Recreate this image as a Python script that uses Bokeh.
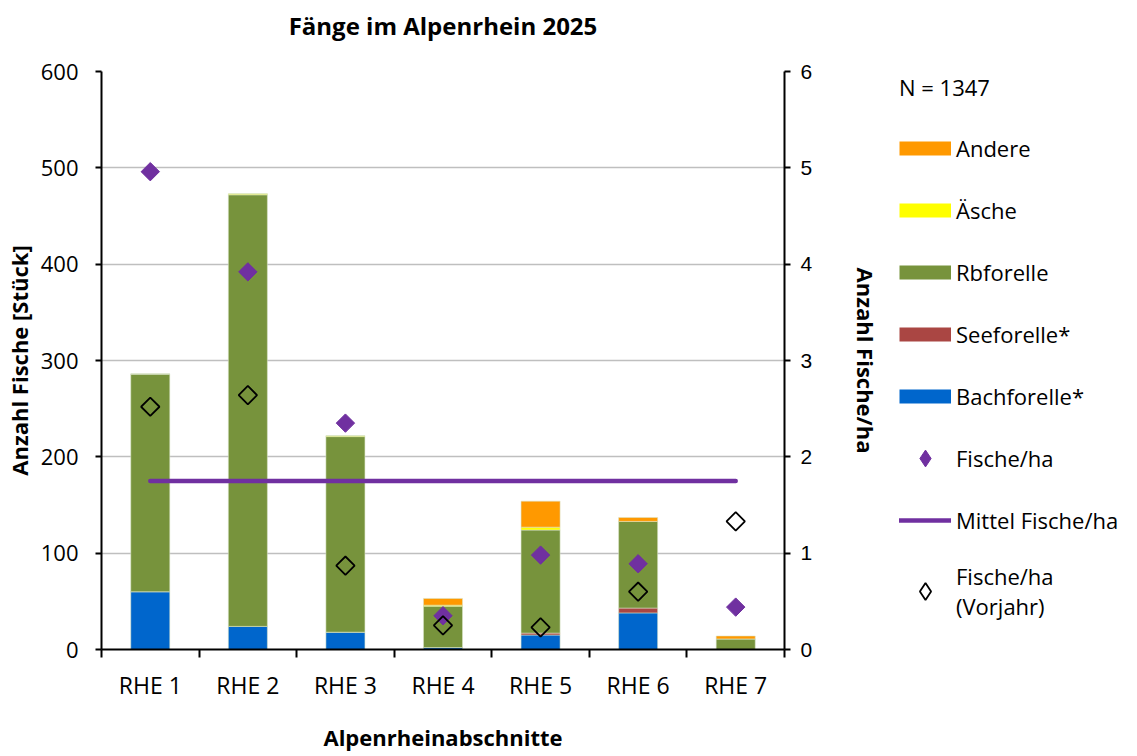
from bokeh.plotting import figure
from bokeh.layouts import row
from bokeh.models import (Range1d, LinearAxis, FixedTicker, Legend, LegendItem, ColumnDataSource, Title)
from bokeh.embed import file_html
from bokeh.resources import INLINE
import math

# ---- data ----
abschnitte = ["RHE 1", "RHE 2", "RHE 3", "RHE 4", "RHE 5", "RHE 6", "RHE 7"]
bachforelle = [60, 24, 18, 2, 15, 38, 0]
seeforelle = [0, 0, 0, 0, 2, 5, 0]
rbforelle = [226, 448, 203, 43, 107, 90, 11]
aesche = [0, 1, 1, 1, 3, 0, 0]
andere = [0, 0, 0, 7, 27, 4, 3]
fische_ha = [4.96, 3.92, 2.35, 0.35, 0.98, 0.89, 0.44]
fische_ha_vorjahr = [2.52, 2.64, 0.87, 0.25, 0.23, 0.60, 1.33]
mittel_fische_ha = [1.75] * 7
y_left_ticks = [0, 100, 200, 300, 400, 500, 600]
y_right_ticks = [0, 1, 2, 3, 4, 5, 6]
n_total = "N = 1347"
chart_title = "Fänge im Alpenrhein 2025"

species = ["bach", "see", "rb", "aesche", "andere"]
labels = ["Bachforelle*", "Seeforelle*", "Rbforelle", "Äsche", "Andere"]
colors = ["#0066CC", "#AA4643", "#77933C", "#FFFF00", "#FF9900"]
PURPLE = "#7030A0"

xs = list(range(1, len(abschnitte) + 1))
src = ColumnDataSource(dict(x=xs, bach=bachforelle, see=seeforelle, rb=rbforelle,
                            aesche=aesche, andere=andere,
                            fha=fische_ha, fvj=fische_ha_vorjahr, mittel=mittel_fische_ha))

FONT = "Open Sans"
H = 754

p = figure(width=885, height=H, output_backend="svg", toolbar_location=None,
           x_range=Range1d(0.5, 7.5), y_range=Range1d(0, 600),
           min_border_left=101, min_border_right=101, min_border_top=71, min_border_bottom=H - 650)
p.extra_y_ranges = {"right": Range1d(0, 6)}
p.outline_line_color = None
p.background_fill_color = "white"

# spacer panel between frame and title, so that the title sits higher
p.add_layout(Title(text=" ", text_font_size="1px", standoff=23), "above")
p.add_layout(Title(text=chart_title, align="center", text_font=FONT, text_font_size="24px",
                   text_font_style="bold", text_color="black", standoff=8), "above")

# bars
bars = p.vbar_stack(species, x="x", width=0.4, source=src, color=colors,
                    line_color="#D9E4C8", line_width=0.8, line_alpha=0.7)

# mean line
ml = p.line(x="x", y="mittel", source=src, y_range_name="right",
            line_color=PURPLE, line_width=4.5, line_cap="round")

# points
fp = p.scatter(x="x", y="fha", source=src, y_range_name="right", marker="square",
               angle=math.pi / 4, size=13, fill_color=PURPLE, line_color=PURPLE)
vp = p.scatter(x="x", y="fvj", source=src, y_range_name="right", marker="square",
               angle=math.pi / 4, size=13, fill_color=None, line_color="black", line_width=1.8)

# axes
p.xaxis.ticker = FixedTicker(ticks=xs, minor_ticks=[i + 0.5 for i in range(0, 8)])
p.xaxis.major_label_overrides = {i: s for i, s in zip(xs, abschnitte)}
p.xaxis.major_tick_line_color = None
p.xaxis.major_tick_out = 0
p.xaxis.minor_tick_line_color = "black"
p.xaxis.minor_tick_line_width = 2
p.xaxis.minor_tick_out = 8
p.xaxis.minor_tick_in = 0
p.xaxis.axis_label = "Alpenrheinabschnitte"
p.xaxis.major_label_standoff = 11

p.yaxis.ticker = FixedTicker(ticks=y_left_ticks)
p.yaxis.axis_label = "Anzahl Fische [Stück]"
p.yaxis.minor_tick_line_color = None
p.yaxis.major_tick_out = 6
p.yaxis.major_tick_in = 0
p.yaxis.major_label_standoff = 17

for ax in [p.xaxis[0], p.yaxis[0]]:
    ax.axis_line_color = "black"
    ax.axis_line_width = 2
    ax.major_tick_line_width = 2
    ax.major_label_text_font = FONT
    ax.major_label_text_font_size = "22px"
    ax.major_label_text_color = "black"
    ax.axis_label_text_font = FONT
    ax.axis_label_text_font_size = "22px"
    ax.axis_label_text_font_style = "bold"
    ax.axis_label_text_color = "black"
p.xaxis.major_label_text_font_size = "23px"
p.xaxis.axis_label_standoff = 18
p.yaxis.axis_label_standoff = 4

ry = LinearAxis(y_range_name="right", ticker=FixedTicker(ticks=y_right_ticks),
                axis_label="Anzahl Fische/ha")
ry.axis_line_color = "black"
ry.axis_line_width = 2
ry.major_tick_line_width = 2
ry.major_tick_out = 6
ry.major_tick_in = 0
ry.minor_tick_line_color = None
ry.major_label_text_font = "Liberation Sans"
ry.major_label_text_font_size = "21px"
ry.major_label_text_color = "black"
ry.major_label_standoff = 10
ry.axis_label_text_font = FONT
ry.axis_label_text_font_size = "22px"
ry.axis_label_text_font_style = "bold"
ry.axis_label_text_color = "black"
ry.axis_label_standoff = 36
p.add_layout(ry, "right")

p.xgrid.grid_line_color = None
p.ygrid.grid_line_color = "#BFBFBF"
p.ygrid.grid_line_width = 1.5

# ---- legend in a separate, axis-less panel to the right ----
lg = figure(width=245, height=H, output_backend="svg", toolbar_location=None,
            x_range=Range1d(0, 1), y_range=Range1d(0, 1),
            x_axis_location=None, y_axis_location=None,
            min_border_left=0, min_border_right=0, min_border_top=0, min_border_bottom=0)
lg.outline_line_color = None
lg.xgrid.grid_line_color = None
lg.ygrid.grid_line_color = None

# legend-only proxy renderers, their single point lies outside the visible range
OFF = dict(x=[-1], y=[-1])

def proxy_bar(c):
    return lg.line(**OFF, line_color=c, line_width=14, line_cap="butt")

px_andere = proxy_bar(colors[4])
px_aesche = proxy_bar(colors[3])
px_rb = proxy_bar(colors[2])
px_see = proxy_bar(colors[1])
px_bach = proxy_bar(colors[0])
px_fha = lg.scatter(**OFF, marker="diamond", fill_color=PURPLE, line_color=PURPLE)
px_ml = lg.line(**OFF, line_color=PURPLE, line_width=4.5, line_cap="round")
px_vj = lg.scatter(**OFF, marker="diamond", fill_color=None, line_color="black", line_width=1.8)

items = [
    LegendItem(label="Andere", renderers=[px_andere]),
    LegendItem(label="Äsche", renderers=[px_aesche]),
    LegendItem(label="Rbforelle", renderers=[px_rb]),
    LegendItem(label="Seeforelle*", renderers=[px_see]),
    LegendItem(label="Bachforelle*", renderers=[px_bach]),
    LegendItem(label="Fische/ha", renderers=[px_fha]),
    LegendItem(label="Mittel Fische/ha", renderers=[px_ml]),
    LegendItem(label="Fische/ha\n(Vorjahr)", renderers=[px_vj]),
]
leg = Legend(items=items, location=(14, 28), title=n_total)
leg.title_text_font = FONT
leg.title_text_font_size = "22px"
leg.title_text_font_style = "normal"
leg.title_text_color = "black"
leg.title_standoff = 25
leg.label_text_font = FONT
leg.label_text_font_size = "22px"
leg.label_text_color = "black"
leg.glyph_width = 52
leg.glyph_height = 42
leg.label_standoff = 5
leg.spacing = 20
leg.padding = 0
leg.margin = 0
leg.border_line_color = None
leg.background_fill_alpha = 0
lg.add_layout(leg, "center")

layout = row(p, lg)
open("out.html", "w").write(file_html(layout, INLINE))
